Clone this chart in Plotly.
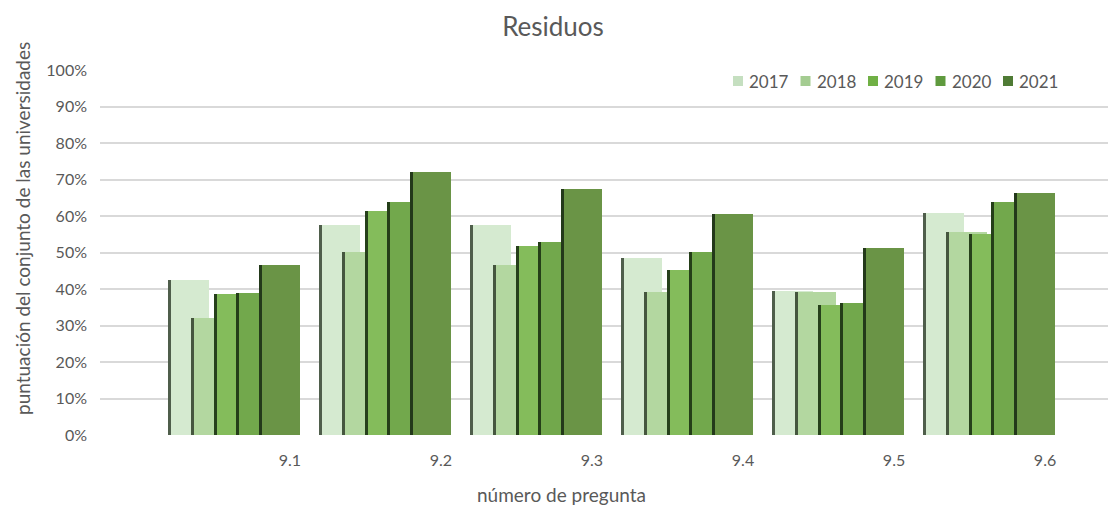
import plotly.graph_objects as go

# question numbers on the category axis
preguntas = ["9.1", "9.2", "9.3", "9.4", "9.5", "9.6"]
years = ["2017", "2018", "2019", "2020", "2021"]

# score of all universities per question, one list per year
v2017 = [0.425, 0.576, 0.576, 0.486, 0.394, 0.607]
v2018 = [0.321, 0.501, 0.465, 0.393, 0.393, 0.555]
v2019 = [0.387, 0.614, 0.517, 0.453, 0.355, 0.550]
v2020 = [0.390, 0.639, 0.529, 0.501, 0.361, 0.639]
v2021 = [0.466, 0.721, 0.675, 0.605, 0.512, 0.664]
values = [v2017, v2018, v2019, v2020, v2021]

fill_colors = ["#d5ead0", "#b3d7a0", "#84bc5b", "#72a84c", "#6a9446"]
edge_colors = ["#4f5e4b", "#45563e", "#26401b", "#243e18", "#23391a"]
legend_colors = ["#c5dfc0", "#a4cc91", "#70b045", "#5f9a3e", "#4f7b35"]

font = "Lato, 'Open Sans', sans-serif"
grey = "#595959"

W, H = 1110, 505
ML, MR, MT, MB = 100, 2, 70, 70
pw, ph = W - ML - MR, H - MT - MB


def px_x(p):
    # pixel -> paper x
    return (p - ML) / pw


def px_y(p):
    # pixel -> paper y
    return (H - MB - p) / ph


x = list(range(len(preguntas)))
first_offset = -0.805   # bars sit left of the tick labels, like the original
step = 0.1497
bar_w = 0.2715
edge_w = 0.02

fig = go.Figure()

for k, year in enumerate(years):
    off = first_offset + k * step
    # bar body
    fig.add_trace(go.Bar(
        x=x, y=values[k], offset=off, width=bar_w,
        marker=dict(color=fill_colors[k], line=dict(width=0)),
        showlegend=False, hovertemplate=year + ": %{y:.0%}<extra></extra>",
    ))
    # dark left edge
    fig.add_trace(go.Bar(
        x=x, y=values[k], offset=off, width=edge_w,
        marker=dict(color=edge_colors[k], line=dict(width=0)),
        showlegend=False, hoverinfo="skip",
    ))

# hand made legend (compact, like the original)
leg_x0, leg_step, leg_y = 733, 67.5, 81
for k, year in enumerate(years):
    lx = leg_x0 + k * leg_step
    fig.add_shape(type="rect", xref="paper", yref="paper",
                  x0=px_x(lx), x1=px_x(lx + 10), y0=px_y(leg_y + 5), y1=px_y(leg_y - 5),
                  fillcolor=legend_colors[k], line=dict(width=0))
    fig.add_annotation(text=year, xref="paper", yref="paper",
                       x=px_x(lx + 14), y=px_y(leg_y), xanchor="left", yanchor="middle",
                       showarrow=False, font=dict(size=17, color=grey))

# axis titles, placed like the original
fig.add_annotation(text="puntuación del conjunto de las universidades",
                   xref="paper", yref="paper", x=px_x(22), y=px_y(229),
                   xanchor="center", yanchor="middle", textangle=-90,
                   showarrow=False, font=dict(size=19, color=grey))
fig.add_annotation(text="número de pregunta",
                   xref="paper", yref="paper", x=px_x(561), y=px_y(494),
                   xanchor="center", yanchor="middle",
                   showarrow=False, font=dict(size=19, color=grey))

fig.update_layout(
    width=W, height=H,
    margin=dict(l=ML, r=MR, t=MT, b=MB, autoexpand=False),
    barmode="overlay",
    showlegend=False,
    paper_bgcolor="white", plot_bgcolor="white",
    font=dict(family=font, color=grey, size=16),
    title=dict(text="Residuos", x=553 / W, xanchor="center", y=1 - 27 / H, yanchor="middle",
               font=dict(size=26, color=grey, family=font)),
    xaxis=dict(
        range=[-1.258, 5.417], tickvals=x, ticktext=preguntas,
        showgrid=False, zeroline=False, showline=False, ticks="",
        ticklabelstandoff=14, tickfont=dict(size=16),
    ),
    yaxis=dict(
        range=[0, 1.0], dtick=0.1, tickformat=".0%",
        gridcolor="#d9d9d9", gridwidth=1.5, zeroline=False, showline=False, ticks="",
        ticklabelstandoff=12, tickfont=dict(size=16),
    ),
    bargap=0,
)

fig.write_html("out.html", config={"displayModeBar": False},
               post_script="document.body.style.margin='0';")
